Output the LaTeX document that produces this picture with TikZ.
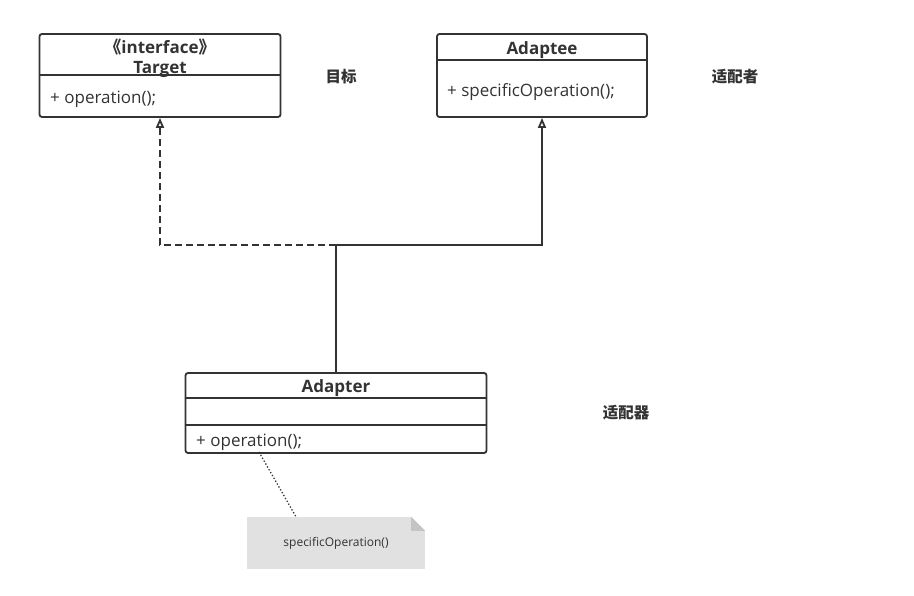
\documentclass[tikz,border=0pt]{standalone}
\usepackage{fontspec}
\setmainfont{Open Sans}
\newfontfamily\cjk{Noto Sans CJK SC}
\usepackage{xcolor}
\usepackage{tikz}
\usetikzlibrary{arrows.meta}

\definecolor{linegray}{HTML}{333333}
\definecolor{notegray}{HTML}{E1E1E1}
\definecolor{foldgray}{HTML}{C4C4C4}

\begin{document}
\begin{tikzpicture}[x=1pt,y=-1pt,
  cls/.style={draw=linegray, line width=1.8pt, rounded corners=2.5pt, inner sep=0pt},
  hdr/.style={font=\fontsize{17}{20}\selectfont\bfseries, text=linegray, align=center, inner sep=0pt},
  member/.style={font=\fontsize{17}{20}\selectfont, text=linegray, anchor=west, inner sep=0pt},
  divider/.style={draw=linegray, line width=1.5pt},
  link/.style={draw=linegray, line width=1.8pt},
  realize/.style={link, -{Triangle[open, length=10pt, width=8pt]}},
  tag/.style={font=\cjk\fontsize{15.5}{17}\selectfont\bfseries, text=linegray, inner sep=0pt}]
  \useasboundingbox (0,0) rectangle (914,596);
  % classes
  \node[cls, minimum width=241pt, minimum height=83pt] (target) at (160,75.5) {};
  \node[hdr] (targetname) at (160,58) {{\cjk 《}interface{\cjk 》}\\Target};
  \node[member] (targetop) at (50,99) {+ operation();};
  \draw[divider] ([yshift=-42pt]target.north west) -- ([yshift=-42pt]target.north east);

  \node[cls, minimum width=210pt, minimum height=83pt] (adaptee) at (542,75.5) {};
  \node[hdr] (adapteename) at (542,50) {Adaptee};
  \node[member] (adapteeop) at (447,92) {+ specificOperation();};
  \draw[divider] ([yshift=-27pt]adaptee.north west) -- ([yshift=-27pt]adaptee.north east);

  \node[cls, minimum width=301pt, minimum height=80pt] (adapter) at (336,413) {};
  \node[hdr] (adaptername) at (336,388) {Adapter};
  \node[member] (adapterop) at (196,442) {+ operation();};
  \draw[divider] ([yshift=-26pt]adapter.north west) -- ([yshift=-26pt]adapter.north east);
  \draw[divider] ([yshift=-53pt]adapter.north west) -- ([yshift=-53pt]adapter.north east);

  % relations
  \coordinate (junction) at (336,245);
  \draw[realize, dash pattern=on 7pt off 4pt] (junction) -| (target.south);
  \draw[realize] (junction) -| (adaptee.south);
  \draw[link] (adapter.north) -- (junction);

  % note
  \node[fill=notegray, minimum width=178pt, minimum height=52pt, inner sep=0pt,
        font=\fontsize{12}{14}\selectfont, text=linegray] (note) at (336,543) {\raisebox{-2pt}{specificOperation()}};
  \fill[white] ([xshift=-14pt]note.north east) -- (note.north east) -- ([yshift=-14pt]note.north east) -- cycle;
  \fill[foldgray] ([xshift=-14pt]note.north east) -- ([yshift=-14pt]note.north east) -- ([xshift=-14pt,yshift=-14pt]note.north east) -- cycle;
  \coordinate (notefrom) at (259,452);
  \draw[linegray, line width=1.3pt, dotted] (notefrom) -- ([xshift=-40pt]note.north);

  % labels
  \node[tag] (targettag) at (341,77) {目标};
  \node[tag] (adapteetag) at (735,77) {适配者};
  \node[tag] (adaptertag) at (626,413) {适配器};
\end{tikzpicture}
\end{document}
